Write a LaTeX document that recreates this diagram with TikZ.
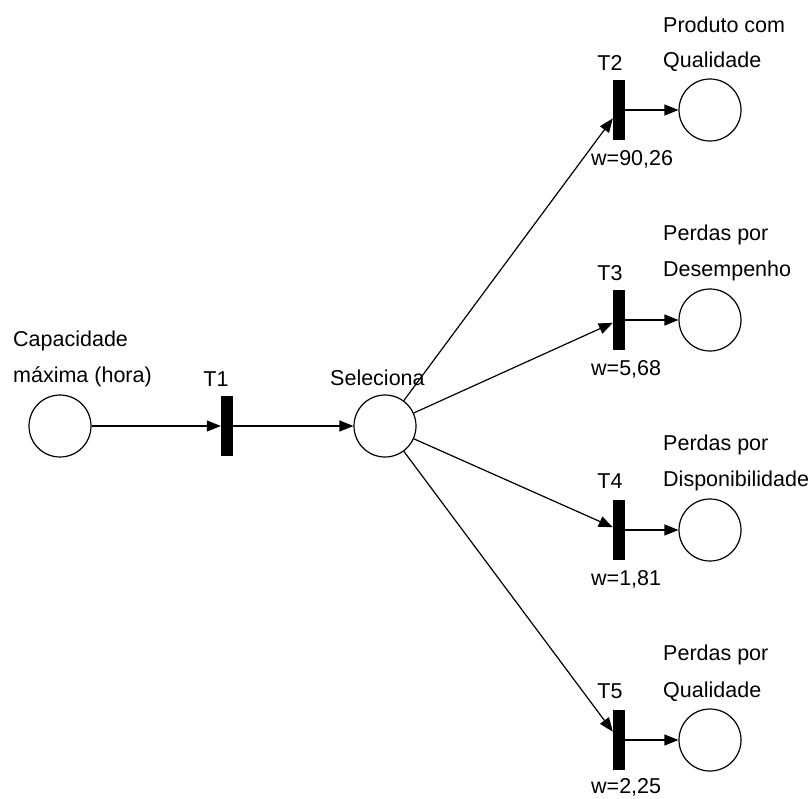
\documentclass[tikz,border=0pt]{standalone}
\usepackage{fontspec}
\setmainfont{Liberation Sans}
\usetikzlibrary{arrows.meta}
\begin{document}
\begin{tikzpicture}[x=1pt,y=-1pt,
  place/.style={circle,draw,line width=1.2pt,minimum size=62pt,inner sep=0pt},
  trans/.style={rectangle,fill=black,draw=none,minimum width=12pt,minimum height=60pt,inner sep=0pt},
  arc/.style={line width=1.2pt,-{Triangle[length=14pt,width=11pt]}},
  lbl/.style={anchor=base west,inner sep=0pt,font=\fontsize{21.5}{26}\selectfont},
  tlbl/.style={anchor=base,inner sep=0pt,font=\fontsize{21.5}{26}\selectfont}
]
\useasboundingbox (0,0) rectangle (810,798);

% places
\node[place] (p0) at (60,426) {};
\node[place] (p1) at (385,426) {};
\node[place] (p2) at (710,110) {};
\node[place] (p3) at (710,320) {};
\node[place] (p4) at (710,530) {};
\node[place] (p5) at (710,740) {};

% transitions
\node[trans] (t1) at (227,426) {};
\node[trans] (t2) at (619,110) {};
\node[trans] (t3) at (619,320) {};
\node[trans] (t4) at (619,530) {};
\node[trans] (t5) at (619,740) {};

% arcs
\draw[arc] (p0) -- (t1);
\draw[arc] (t1) -- (p1);
\draw[arc] (p1) -- (t2);
\draw[arc] (p1) -- (t3);
\draw[arc] (p1) -- (t4);
\draw[arc] (p1) -- (t5);
\draw[arc] (t2) -- (p2);
\draw[arc] (t3) -- (p3);
\draw[arc] (t4) -- (p4);
\draw[arc] (t5) -- (p5);

% place labels
\node[lbl] (l0a) at (13,346) {Capacidade};
\node[lbl] (l0b) at (13,382) {máxima (hora)};
\node[lbl] (l1) at (330,385) {Seleciona};
\node[lbl] (l2a) at (663,32) {Produto com};
\node[lbl] (l2b) at (663,67) {Qualidade};
\node[lbl] (l3a) at (663,240) {Perdas por};
\node[lbl] (l3b) at (663,276) {Desempenho};
\node[lbl] (l4a) at (663,450) {Perdas por};
\node[lbl] (l4b) at (663,486) {Disponibilidade};
\node[lbl] (l5a) at (663,660) {Perdas por};
\node[lbl] (l5b) at (663,697) {Qualidade};

% transition labels
\node[tlbl] (lt1) at (216,386) {T1};
\node[tlbl] (lt2) at (610,70) {T2};
\node[tlbl] (lt3) at (610,280) {T3};
\node[tlbl] (lt4) at (610,488) {T4};
\node[tlbl] (lt5) at (610,698) {T5};

% weights
\node[lbl] (w2) at (591,165) {w=90,26};
\node[lbl] (w3) at (591,375) {w=5,68};
\node[lbl] (w4) at (591,585) {w=1,81};
\node[lbl] (w5) at (591,793) {w=2,25};
\end{tikzpicture}
\end{document}
